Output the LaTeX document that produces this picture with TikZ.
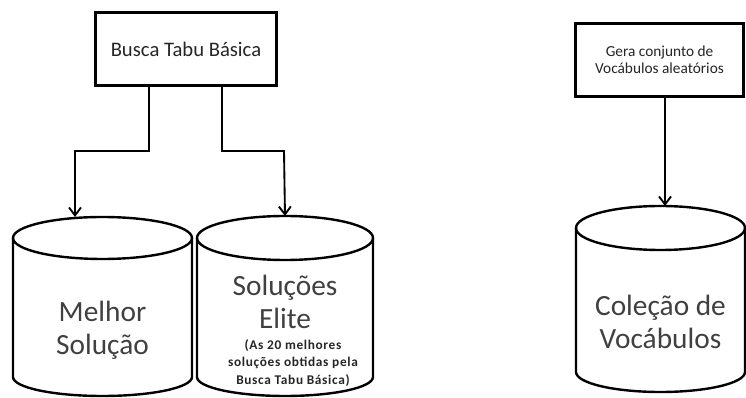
\documentclass[tikz,border=0pt]{standalone}
\usepackage{fontspec}
\setmainfont{Carlito}
\usetikzlibrary{arrows.meta}
\begin{document}
\begin{tikzpicture}[x=0.75pt,y=-0.75pt,
  procbox/.style={draw=black,line width=2.2pt,fill=white,align=center,
    text=black!85,inner sep=0pt},
  drum/.style={line width=1.8pt,draw=black},
  bigtext/.style={align=center,text=black!75,font=\fontsize{22}{25}\selectfont},
  notetext/.style={align=center,text=black!85,
    font=\bfseries\fontsize{10}{13}\selectfont\addfontfeature{LetterSpace=5}},
  flow/.style={line width=1.4pt,-{Straight Barb[length=6pt,width=9pt,line width=1.4pt]}}]
\useasboundingbox (0,0) rectangle (746,398);

% process boxes
\node[procbox,minimum width=136pt,minimum height=55pt,
  font=\fontsize{15.5}{17}\selectfont] (tabu) at (186,49) {Busca Tabu Básica};
\node[procbox,minimum width=126pt,minimum height=55pt,
  font=\fontsize{11.5}{12.8}\selectfont] (gera) at (659.5,60) {Gera conjunto de\\Vocábulos aleatórios};

% storage drums: sides, bottom arc, top ellipse
\draw[drum] (13,238) -- (13,377) arc[start angle=180,end angle=0,x radius=89.5,y radius=19] -- (192,238);
\draw[drum] (102.5,238) ellipse[x radius=89.5,y radius=21];
\coordinate (best) at (75,217);

\draw[drum] (197,238) -- (197,377) arc[start angle=180,end angle=0,x radius=88,y radius=19] -- (373,238);
\draw[drum] (285,238) ellipse[x radius=88,y radius=22];
\coordinate (elite) at (285,216);

\draw[drum] (576,228) -- (576,372) arc[start angle=180,end angle=0,x radius=84.5,y radius=20] -- (745,228);
\draw[drum] (660.5,228) ellipse[x radius=84.5,y radius=22];
\coordinate (vocab) at (665,206);

% drum labels
\node[bigtext] (bestlbl) at (102.5,330) {Melhor\\Solução};
\node[bigtext] (elitelbl) at (285,302) {Soluções\\Elite};
\node[notetext] (elitenote) at (293,363) {(As 20 melhores\\soluções obtidas pela\\Busca Tabu Básica)};
\node[bigtext] (vocablbl) at (660.5,322) {Coleção de\\Vocábulos};

% connectors
\coordinate (tabuL) at (149,86);
\coordinate (tabuR) at (222,86);
\draw[flow] (tabuL) -- (149,151) -- (75,151) -- (best);
\draw[flow] (tabuR) -- (222,151) -- (284,151) -- (elite);
\draw[flow] (gera.south -| vocab) -- (vocab);
\end{tikzpicture}
\end{document}
